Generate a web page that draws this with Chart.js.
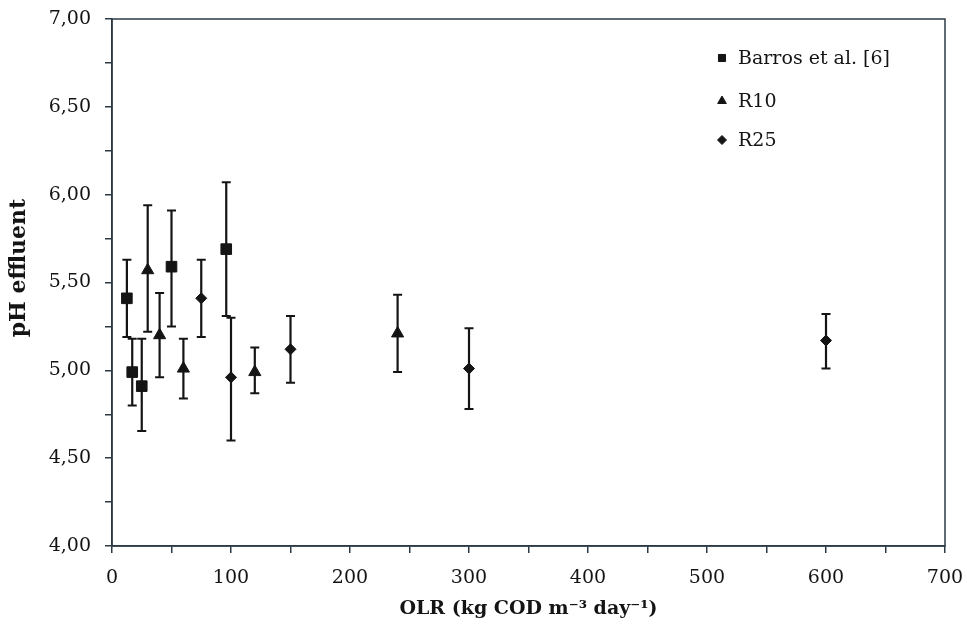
<!DOCTYPE html>
<html>
<head>
<meta charset="utf-8">
<script src="https://cdn.jsdelivr.net/npm/chart.js@4.4.1/dist/chart.umd.min.js"></script>
<style>
html,body{margin:0;padding:0;background:#fff;}
#wrap{width:967px;height:630px;position:relative;}
</style>
</head>
<body>
<div id="wrap"><canvas id="c" width="967" height="630"></canvas></div>
<script>
// ---- data ----
const seriesNames = ["Barros et al. [6]", "R10", "R25"];
const yTitle = "pH effluent";
const xTitle = "OLR (kg COD m⁻³ day⁻¹)";

const barrosX    = [12.5, 17, 25, 50, 96];
const barrosY    = [5.41, 4.99, 4.91, 5.59, 5.69];
const barrosLow  = [5.19, 4.80, 4.655, 5.25, 5.31];
const barrosHigh = [5.63, 5.18, 5.18, 5.91, 6.07];

const r10X    = [30, 40, 60, 120, 240];
const r10Y    = [5.57, 5.20, 5.01, 4.99, 5.21];
const r10Low  = [5.22, 4.96, 4.84, 4.87, 4.99];
const r10High = [5.94, 5.44, 5.18, 5.13, 5.43];

const r25X    = [75, 100, 150, 300, 600];
const r25Y    = [5.41, 4.96, 5.12, 5.01, 5.17];
const r25Low  = [5.19, 4.60, 4.93, 4.78, 5.01];
const r25High = [5.63, 5.30, 5.31, 5.24, 5.32];

const yTickLabels = ["4,00","4,50","5,00","5,50","6,00","6,50","7,00"];
const xTickLabels = ["0","100","200","300","400","500","600","700"];

const FONT = "'DejaVu Serif', 'Liberation Serif', serif";
const INK = "#141414";

function pts(xs, ys){ return xs.map((x,i)=>({x:x, y:ys[i]})); }

const errorBars = {
  id: 'errorBars',
  beforeDatasetsDraw(chart){
    const ctx = chart.ctx, xs = chart.scales.x, ys = chart.scales.y;
    ctx.save();
    ctx.strokeStyle = INK;
    chart.data.datasets.forEach(ds=>{
      ds.data.forEach((p,i)=>{
        const px = xs.getPixelForValue(p.x);
        const lo = ys.getPixelForValue(ds.errLow[i]);
        const hi = ys.getPixelForValue(ds.errHigh[i]);
        ctx.lineWidth = 2.2;
        ctx.beginPath();
        ctx.moveTo(px, lo); ctx.lineTo(px, hi);
        ctx.stroke();
        ctx.lineWidth = 2;
        ctx.beginPath();
        ctx.moveTo(px-4.5, lo); ctx.lineTo(px+4.5, lo);
        ctx.moveTo(px-4.5, hi); ctx.lineTo(px+4.5, hi);
        ctx.stroke();
      });
    });
    ctx.restore();
  }
};

const frame = {
  id: 'frame',
  afterDraw(chart){
    const a = chart.chartArea, ctx = chart.ctx;
    ctx.save();
    ctx.strokeStyle = "#2b3a44";
    ctx.lineWidth = 1.5;
    ctx.strokeRect(a.left, a.top, a.right-a.left, a.bottom-a.top);
    // rotated y-axis title
    ctx.translate(19, 268);
    ctx.rotate(-Math.PI/2);
    ctx.font = "bold 22px " + FONT;
    ctx.fillStyle = INK;
    ctx.textAlign = 'center';
    ctx.textBaseline = 'middle';
    ctx.fillText(yTitle, 0, 0);
    ctx.restore();
  }
};

const legendIn = {
  id: 'legendIn',
  afterDraw(chart){
    const ctx = chart.ctx;
    const mx = 722, tx = 738, rows = [58, 101, 140];
    ctx.save();
    ctx.font = "19px " + FONT;
    ctx.textBaseline = 'middle';
    chart.data.datasets.forEach((ds,i)=>{
      ctx.fillStyle = INK; ctx.strokeStyle = INK;
      Chart.helpers.drawPoint(ctx, {pointStyle: ds.pointStyle, radius: ds.legendRadius, borderWidth: 1}, mx, rows[i]);
      ctx.fillStyle = INK;
      ctx.fillText(ds.label, tx, rows[i]+1);
    });
    ctx.restore();
  }
};

const makeDs = (label, xs, ys, lo, hi, style, r, lr) => ({
  label: label,
  data: pts(xs, ys),
  errLow: lo, errHigh: hi,
  pointStyle: style,
  pointRadius: r,
  pointHoverRadius: r,
  legendRadius: lr,
  backgroundColor: INK,
  borderColor: INK,
  pointBorderWidth: 1,
  showLine: false
});

new Chart(document.getElementById('c'), {
  type: 'scatter',
  data: {
    datasets: [
      makeDs(seriesNames[0], barrosX, barrosY, barrosLow, barrosHigh, 'rect', 7.5, 5),
      makeDs(seriesNames[1], r10X, r10Y, r10Low, r10High, 'triangle', 7, 5),
      makeDs(seriesNames[2], r25X, r25Y, r25Low, r25High, 'rectRot', 5.5, 4.5)
    ]
  },
  plugins: [errorBars, frame, legendIn],
  options: {
    responsive: false,
    animation: false,
    events: [],
    layout: { padding: { top: 19, right: 22, left: 0, bottom: 0 } },
    plugins: { legend: { display: false }, tooltip: { enabled: false } },
    scales: {
      x: {
        type: 'linear', min: 0, max: 700,
        afterFit(s){ s.height = 84; s.paddingLeft = 0; s.paddingRight = 0; },
        afterBuildTicks(s){ s.ticks = []; for(let v=0; v<=700; v+=50) s.ticks.push({value:v}); },
        ticks: {
          autoSkip: false, maxRotation: 0,
          color: INK, padding: 14,
          font: { family: FONT, size: 19 },
          callback(v){ return v % 100 === 0 ? xTickLabels[v/100] : ''; }
        },
        grid: { drawOnChartArea: false, drawTicks: true, tickLength: 7, color: "#2b3a44", lineWidth: 1.5 },
        border: { display: true, color: "#2b3a44", width: 1.5 },
        title: {
          display: true, text: xTitle,
          color: INK, font: { family: FONT, size: 19, weight: 'bold' },
          padding: { top: 0, bottom: 10 }
        }
      },
      y: {
        type: 'linear', min: 4, max: 7,
        afterFit(s){ s.width = 112; s.paddingTop = 0; s.paddingBottom = 0; },
        afterBuildTicks(s){ s.ticks = []; for(let k=0; k<=12; k++) s.ticks.push({value: 4 + k*0.25}); },
        ticks: {
          autoSkip: false, color: INK, padding: 14,
          font: { family: FONT, size: 19 },
          callback(v){ const k = Math.round((v-4)/0.25); return k % 2 === 0 ? yTickLabels[k/2] : ''; }
        },
        grid: { drawOnChartArea: false, drawTicks: true, tickLength: 7, color: "#2b3a44", lineWidth: 1.5 },
        border: { display: true, color: "#2b3a44", width: 1.5 },
        title: { display: false }
      }
    }
  }
});
</script>
</body>
</html>
